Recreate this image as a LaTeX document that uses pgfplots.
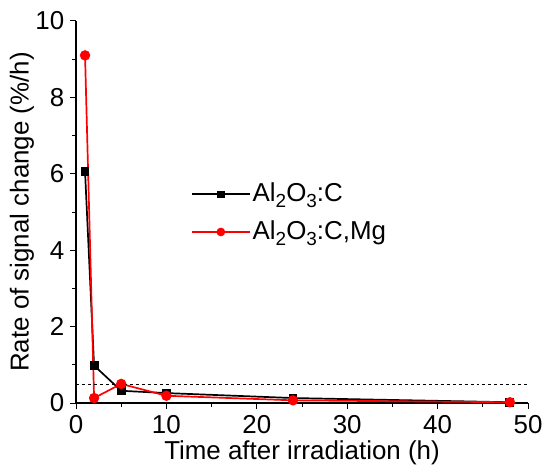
\documentclass[border=0pt]{standalone}
\usepackage{fontspec}
\setmainfont{Liberation Sans}
\usepackage{pgfplots}
\pgfplotsset{compat=1.18}
\newcommand{\sub}[1]{\raisebox{-0.45ex}{\fontsize{19}{20}\selectfont #1}}

\begin{document}
\fontsize{26}{30}\selectfont
\begin{tikzpicture}
\begin{axis}[
scale only axis,
width=452bp,height=382bp,
xmin=0,xmax=50,
ymin=0,ymax=10,
axis x line=bottom,axis y line=left,
axis line style={-,line width=1.2bp},
xtick={0,10,...,50},ytick={0,2,...,10},
minor x tick num=1,minor y tick num=1,
tick align=outside,
major tick length=6bp,minor tick length=4bp,
tick style={line width=1bp,black},
/pgf/number format/assume math mode=true,
ticklabel style={font=\fontsize{26}{30}\selectfont},
xticklabel style={yshift=2bp},
yticklabel style={xshift=3bp},
label style={font=\fontsize{26}{30}\selectfont},
xlabel={Time after irradiation (h)},
ylabel={Rate of signal change (\%/h)},
xlabel style={yshift=11bp},
ylabel style={yshift=-16bp},
clip=false,
legend style={draw=none,fill=none,at={(0.254,0.497)},anchor=west,
  inner sep=0pt,row sep=11bp,font=\fontsize{26}{30}\selectfont},
legend cell align=left,
legend image code/.code={\draw[mark repeat=2,mark phase=2,#1,mark options={scale=0.8}]
  plot coordinates {(0bp,0bp) (29bp,0bp) (58bp,0bp)};},
]
\addplot[black,line width=1.7bp,mark=square*,mark size=3.6bp] coordinates {
(1,6.06)(2,0.98)(5,0.32)(10,0.26)(24,0.13)(48,0.02)
};
\addplot[red,line width=1.7bp,mark=*,mark size=4.3bp] coordinates {
(1,9.1)(2,0.13)(5,0.5)(10,0.19)(24,0.07)(48,0.02)
};
\addplot[black,dashed,line width=0.8bp,forget plot] coordinates {(0,0.5)(50,0.5)};
\legend{Al\sub{2}O\sub{3}:C,{Al\sub{2}O\sub{3}:C,Mg}}
\coordinate (sw) at (rel axis cs:0,0);
\coordinate (ne) at (rel axis cs:1,1);
\end{axis}
\pgfresetboundingbox
\path[use as bounding box] ([xshift=-76bp,yshift=-70bp]sw) rectangle ([xshift=16bp,yshift=21bp]ne);
\end{tikzpicture}
\end{document}
